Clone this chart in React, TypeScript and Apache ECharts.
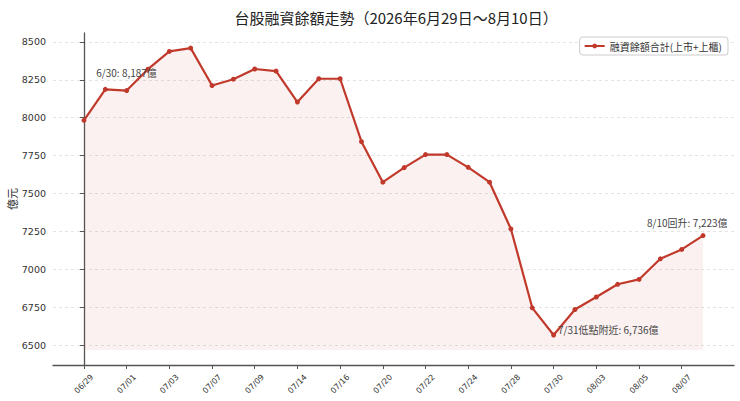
import React, { useEffect, useRef } from "react";
import * as echarts from "echarts";

const dates = [
  "06/29", "06/30", "07/01", "07/02", "07/03", "07/06", "07/07", "07/08", "07/09", "07/10",
  "07/14", "07/15", "07/16", "07/17", "07/20", "07/21", "07/22", "07/23", "07/24", "07/27",
  "07/28", "07/29", "07/30", "07/31", "08/03", "08/04", "08/05", "08/06", "08/07", "08/10",
];

const marginBalance = [
  7983, 8187, 8179, 8320, 8437, 8459, 8212, 8254, 8321, 8307,
  8103, 8257, 8257, 7842, 7575, 7671, 7757, 7757, 7673, 7575,
  7267, 6747, 6568, 6736, 6818, 6902, 6934, 7070, 7132, 7223,
];

const yTicks = [6500, 6750, 7000, 7250, 7500, 7750, 8000, 8250, 8500];
const xTickIdx = [0, 2, 4, 6, 8, 10, 12, 14, 16, 18, 20, 22, 24, 26, 28];

const annotations = [
  { idx: 1, text: "6/30: 8,187億", dx: -9, dy: -17 },
  { idx: 23, text: "7/31低點附近: 6,736億", dx: -17, dy: 20 },
  { idx: 29, text: "8/10回升: 7,223億", dx: -56, dy: -13 },
];

const TITLE = "台股融資餘額走勢（2026年6月29日～8月10日）";
const SERIES_NAME = "融資餘額合計(上市+上櫃)";
const Y_NAME = "億元";

const CJK = '"Noto Sans CJK TC", "Noto Sans CJK SC", sans-serif';
const NUM = '"DejaVu Sans", sans-serif';
const RED = "#c0392b";

export default function App() {
  const ref = useRef<HTMLDivElement>(null);

  useEffect(() => {
    if (!ref.current) return;
    const chart = echarts.init(ref.current, null, { renderer: "svg" });
    const minV = Math.min(...marginBalance);
    const areaBase = minV * 0.985;
    const maxV = Math.max(...marginBalance);
    const span = maxV - areaBase;
    const n = marginBalance.length;

    chart.setOption({
      animation: false,
      backgroundColor: "#fff",
      title: {
        text: TITLE,
        left: 391,
        textAlign: "center",
        top: 5,
        textStyle: { fontFamily: CJK, fontSize: 15, fontWeight: "normal", color: "#222" },
      },
      legend: {
        right: 12,
        top: 37,
        data: [SERIES_NAME],
        itemWidth: 20,
        itemHeight: 6,
        itemGap: 6,
        padding: [4, 6, 4, 4],
        borderColor: "#ccc",
        borderWidth: 1,
        borderRadius: 3,
        backgroundColor: "#fff",
        textStyle: { fontFamily: CJK, fontSize: 10, color: "#333" },
      },
      grid: {
        left: 53,
        right: 6,
        top: 33,
        bottom: 36,
        containLabel: false,
        outerBoundsMode: "none",
      },
      xAxis: {
        type: "value",
        min: -0.05 * (n - 1),
        max: (n - 1) * 1.05,
        splitLine: { show: false },
        axisLine: { show: true, onZero: false, lineStyle: { color: "#555", width: 1.3 } },
        axisTick: { show: true, length: 4, customValues: xTickIdx, lineStyle: { color: "#555" } },
        axisLabel: {
          customValues: xTickIdx,
          rotate: 45,
          align: "center",
          verticalAlign: "middle",
          margin: 19,
          fontFamily: NUM,
          fontSize: 8,
          color: "#333",
          formatter: (v: number) => dates[Math.round(v)] ?? "",
        },
      },
      yAxis: {
        type: "value",
        min: areaBase - span * 0.05,
        max: maxV + span * 0.05,
        name: Y_NAME,
        nameLocation: "middle",
        nameGap: 36,
        nameRotate: 90,
        nameMoveOverlap: false,
        nameTextStyle: { fontFamily: CJK, fontSize: 11, color: "#222" },
        axisLine: { show: true, lineStyle: { color: "#555", width: 1.3 } },
        axisTick: { show: true, length: 4, customValues: yTicks, lineStyle: { color: "#555" } },
        axisLabel: {
          customValues: yTicks,
          margin: 7,
          fontFamily: NUM,
          fontSize: 9.5,
          color: "#333",
          formatter: (v: number) => String(v),
        },
        splitLine: {
          show: true,
          lineStyle: { color: "#dcdcdc", type: [3, 3], width: 0.8 },
        },
      },
      series: [
        {
          name: SERIES_NAME,
          type: "line",
          data: marginBalance.map((v, i) => [i, v]),
          symbol: "circle",
          symbolSize: 5,
          lineStyle: { color: RED, width: 2.2 },
          itemStyle: { color: RED },
          areaStyle: { color: "rgba(192,57,43,0.1)", origin: areaBase },
          markPoint: {
            symbol: "circle",
            symbolSize: 0,
            silent: true,
            data: annotations.map((a) => ({
              coord: [a.idx, marginBalance[a.idx]],
              label: {
                show: true,
                formatter: a.text,
                position: [a.dx, a.dy],
                align: "left",
                verticalAlign: "middle",
                fontFamily: CJK,
                fontSize: 10,
                color: "#444",
              },
            })),
          },
        },
      ],
    });
    return () => chart.dispose();
  }, []);

  return (
    <div
      ref={ref}
      style={{ position: "fixed", left: 0, top: 0, width: 740, height: 401 }}
    />
  );
}
